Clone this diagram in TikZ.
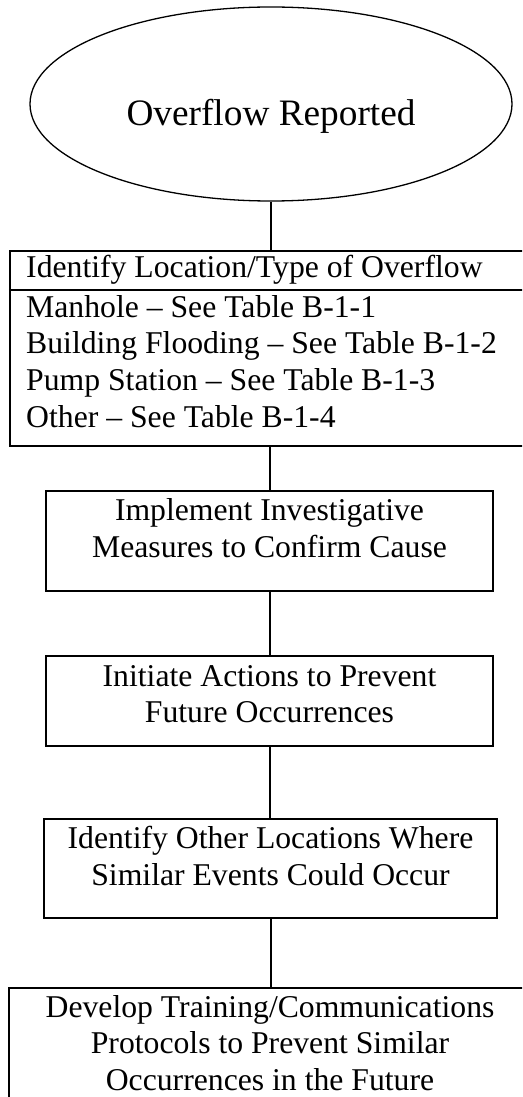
\documentclass[tikz,border=0pt]{standalone}
\usepackage{fontspec}
\setmainfont{Liberation Serif}
\usetikzlibrary{shapes.geometric}
\begin{document}
\begin{tikzpicture}[x=1pt,y=-1pt,
  boxstyle/.style={draw=black,line width=2.2pt,rectangle,inner sep=0pt},
  link/.style={draw=black,line width=2pt},
  txt/.style={inner sep=0pt,anchor=base,font=\fontsize{31.7}{36.6}\selectfont},
  ltxt/.style={inner sep=0pt,anchor=base west,font=\fontsize{31.7}{36.6}\selectfont}]
\useasboundingbox (0,0) rectangle (522,1097);
\clip (0,0) rectangle (522,1097);
\fill[white] (0,0) rectangle (522,1097);
% ellipse
\node[ellipse,draw=black,line width=1.3pt,minimum width=482pt,minimum height=194pt,inner sep=0pt] (ell) at (271,104) {};
\node[inner sep=0pt,anchor=base,font=\fontsize{37.3}{43}\selectfont] (t0) at (271,125) {Overflow Reported};
% box 1
\node[boxstyle,minimum width=520pt,minimum height=195pt] (b1) at (270,348.5) {};
\coordinate (d1) at (0,290);
\draw[line width=2.2pt] (b1.west |- d1) -- (b1.east |- d1);
\node[ltxt] (t1) at (26,277) {Identify Location/Type of Overflow};
\node[ltxt] (t1a) at (26,317) {Manhole – See Table B-1-1};
\node[ltxt] (t1b) at (26,353.7) {Building Flooding – See Table B-1-2};
\node[ltxt] (t1c) at (26,390.4) {Pump Station – See Table B-1-3};
\node[ltxt] (t1d) at (26,427.1) {Other – See Table B-1-4};
% box 2
\node[boxstyle,minimum width=447pt,minimum height=100pt] (b2) at (269.5,541) {};
\node[txt] (t2a) at (269.5,520) {Implement Investigative};
\node[txt] (t2b) at (269.5,557) {Measures to Confirm Cause};
% box 3
\node[boxstyle,minimum width=447pt,minimum height=90pt] (b3) at (269.5,701) {};
\node[txt] (t3a) at (269.5,686) {Initiate Actions to Prevent};
\node[txt] (t3b) at (269.5,722) {Future Occurrences};
% box 4
\node[boxstyle,minimum width=453pt,minimum height=99pt] (b4) at (270.5,868.5) {};
\node[txt] (t4a) at (270.5,848) {Identify Other Locations Where};
\node[txt] (t4b) at (270.5,885) {Similar Events Could Occur};
% box 5
\node[boxstyle,minimum width=522pt,minimum height=130pt] (b5) at (270,1053) {};
\node[txt] (t5a) at (270,1017) {Develop Training/Communications};
\node[txt] (t5b) at (270,1053) {Protocols to Prevent Similar};
\node[txt] (t5c) at (270,1090) {Occurrences in the Future};
% connectors
\draw[link] (ell.south) -- (ell.south |- b1.north);
\draw[link] (b1.south) -- (b1.south |- b2.north);
\draw[link] (b2.south) -- (b2.south |- b3.north);
\draw[link] (b3.south) -- (b3.south |- b4.north);
\draw[link] (b4.south) -- (b4.south |- b5.north);
\end{tikzpicture}
\end{document}
